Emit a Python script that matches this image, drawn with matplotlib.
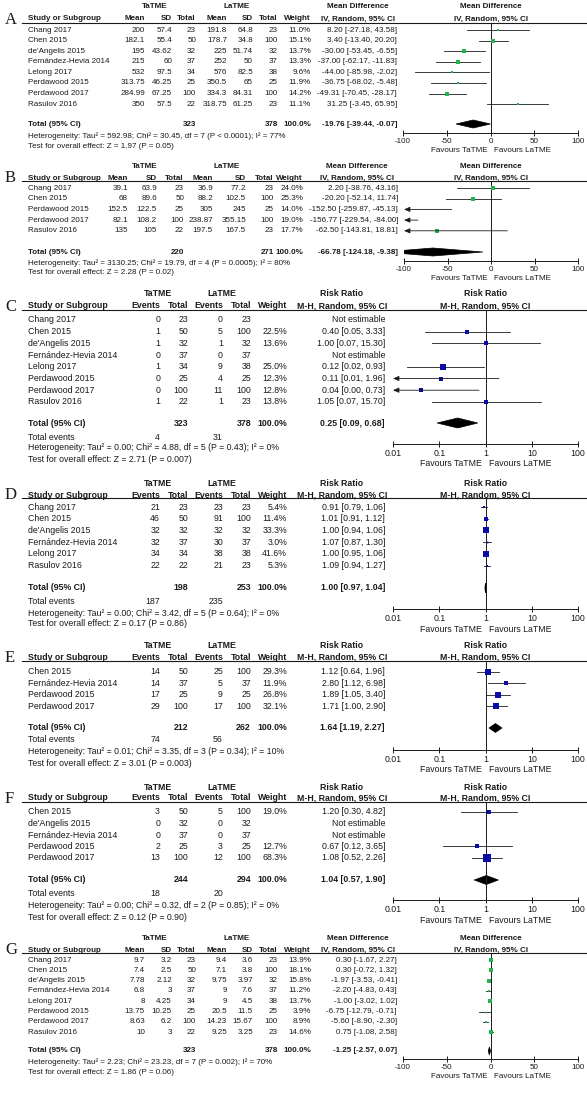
import numpy as np
import matplotlib.pyplot as plt
from matplotlib.patches import Polygon

plt.rcParams['font.family'] = ['Liberation Sans', 'DejaVu Sans']

nan = np.nan

# ---------------- A: mean difference ----------------
a_study = ["Chang 2017", "Chen 2015", "de'Angelis 2015", "Fernández-Hevia 2014",
           "Lelong 2017", "Perdawood 2015", "Perdawood 2017", "Rasulov 2016"]
a_t_mean = [200, 182.1, 195, 215, 532, 313.75, 284.99, 350]
a_t_sd = [57.4, 55.4, 43.62, 60, 97.5, 46.25, 67.25, 57.5]
a_t_n = [23, 50, 32, 37, 34, 25, 100, 22]
a_l_mean = [191.8, 178.7, 225, 252, 576, 350.5, 334.3, 318.75]
a_l_sd = [64.8, 34.8, 51.74, 50, 82.5, 65, 84.31, 61.25]
a_l_n = [23, 100, 32, 37, 38, 25, 100, 23]
a_weight = [11.0, 15.1, 13.7, 13.3, 9.6, 11.9, 14.2, 11.1]
a_est = [8.20, 3.40, -30.00, -37.00, -44.00, -36.75, -49.31, 31.25]
a_lo = [-27.18, -13.40, -53.45, -62.17, -85.98, -68.02, -70.45, -3.45]
a_hi = [43.58, 20.20, -6.55, -11.83, -2.02, -5.48, -28.17, 65.95]
a_total = [323, 378, -19.76, -39.44, -0.07]
a_het = "Heterogeneity: Tau² = 592.98; Chi² = 30.45, df = 7 (P < 0.0001); I² = 77%"
a_test = "Test for overall effect: Z = 1.97 (P = 0.05)"

# ---------------- B: mean difference ----------------
b_study = ["Chang 2017", "Chen 2015", "Perdawood 2015", "Perdawood 2017", "Rasulov 2016"]
b_t_mean = [39.1, 68, 152.5, 82.1, 135]
b_t_sd = [63.9, 89.6, 122.5, 108.2, 105]
b_t_n = [23, 50, 25, 100, 22]
b_l_mean = [36.9, 88.2, 305, 238.87, 197.5]
b_l_sd = [77.2, 102.5, 245, 355.15, 167.5]
b_l_n = [23, 100, 25, 100, 23]
b_weight = [24.0, 25.3, 14.0, 19.0, 17.7]
b_est = [2.20, -20.20, -152.50, -156.77, -62.50]
b_lo = [-38.76, -52.14, -259.87, -229.54, -143.81]
b_hi = [43.16, 11.74, -45.13, -84.00, 18.81]
b_total = [220, 271, -66.78, -124.18, -9.38]
b_het = "Heterogeneity: Tau² = 3130.25; Chi² = 19.79, df = 4 (P = 0.0005); I² = 80%"
b_test = "Test for overall effect: Z = 2.28 (P = 0.02)"

# ---------------- C: risk ratio ----------------
c_study = a_study
c_t_ev = [0, 1, 1, 0, 1, 0, 0, 1]
c_t_n = [23, 50, 32, 37, 34, 25, 100, 22]
c_l_ev = [0, 5, 1, 0, 9, 4, 11, 1]
c_l_n = [23, 100, 32, 37, 38, 25, 100, 23]
c_weight = [nan, 22.5, 13.6, nan, 25.0, 12.3, 12.8, 13.8]
c_est = [nan, 0.40, 1.00, nan, 0.12, 0.11, 0.04, 1.05]
c_lo = [nan, 0.05, 0.07, nan, 0.02, 0.01, 0.00, 0.07]
c_hi = [nan, 3.33, 15.30, nan, 0.93, 1.96, 0.73, 15.70]
c_total = [323, 378, 0.25, 0.09, 0.68]
c_events = [4, 31]
c_het = "Heterogeneity: Tau² = 0.00; Chi² = 4.88, df = 5 (P = 0.43); I² = 0%"
c_test = "Test for overall effect: Z = 2.71 (P = 0.007)"

# ---------------- D: risk ratio ----------------
d_study = ["Chang 2017", "Chen 2015", "de'Angelis 2015", "Fernández-Hevia 2014",
           "Lelong 2017", "Rasulov 2016"]
d_t_ev = [21, 46, 32, 32, 34, 22]
d_t_n = [23, 50, 32, 37, 34, 22]
d_l_ev = [23, 91, 32, 30, 38, 21]
d_l_n = [23, 100, 32, 37, 38, 23]
d_weight = [5.4, 11.4, 33.3, 3.0, 41.6, 5.3]
d_est = [0.91, 1.01, 1.00, 1.07, 1.00, 1.09]
d_lo = [0.79, 0.91, 0.94, 0.87, 0.95, 0.94]
d_hi = [1.06, 1.12, 1.06, 1.30, 1.06, 1.27]
d_total = [198, 253, 1.00, 0.97, 1.04]
d_events = [187, 235]
d_het = "Heterogeneity: Tau² = 0.00; Chi² = 3.42, df = 5 (P = 0.64); I² = 0%"
d_test = "Test for overall effect: Z = 0.17 (P = 0.86)"

# ---------------- E: risk ratio ----------------
e_study = ["Chen 2015", "Fernández-Hevia 2014", "Perdawood 2015", "Perdawood 2017"]
e_t_ev = [14, 14, 17, 29]
e_t_n = [50, 37, 25, 100]
e_l_ev = [25, 5, 9, 17]
e_l_n = [100, 37, 25, 100]
e_weight = [29.3, 11.9, 26.8, 32.1]
e_est = [1.12, 2.80, 1.89, 1.71]
e_lo = [0.64, 1.12, 1.05, 1.00]
e_hi = [1.96, 6.98, 3.40, 2.90]
e_total = [212, 262, 1.64, 1.19, 2.27]
e_events = [74, 56]
e_het = "Heterogeneity: Tau² = 0.01; Chi² = 3.35, df = 3 (P = 0.34); I² = 10%"
e_test = "Test for overall effect: Z = 3.01 (P = 0.003)"

# ---------------- F: risk ratio ----------------
f_study = ["Chen 2015", "de'Angelis 2015", "Fernández-Hevia 2014", "Perdawood 2015", "Perdawood 2017"]
f_t_ev = [3, 0, 0, 2, 13]
f_t_n = [50, 32, 37, 25, 100]
f_l_ev = [5, 0, 0, 3, 12]
f_l_n = [100, 32, 37, 25, 100]
f_weight = [19.0, nan, nan, 12.7, 68.3]
f_est = [1.20, nan, nan, 0.67, 1.08]
f_lo = [0.30, nan, nan, 0.12, 0.52]
f_hi = [4.82, nan, nan, 3.65, 2.26]
f_total = [244, 294, 1.04, 0.57, 1.90]
f_events = [18, 20]
f_het = "Heterogeneity: Tau² = 0.00; Chi² = 0.32, df = 2 (P = 0.85); I² = 0%"
f_test = "Test for overall effect: Z = 0.12 (P = 0.90)"

# ---------------- G: mean difference ----------------
g_study = a_study
g_t_mean = [9.7, 7.4, 7.78, 6.8, 8, 13.75, 8.63, 10]
g_t_sd = [3.2, 2.5, 2.12, 3, 4.25, 10.25, 6.2, 3]
g_t_n = [23, 50, 32, 37, 34, 25, 100, 22]
g_l_mean = [9.4, 7.1, 9.75, 9, 9, 20.5, 14.23, 9.25]
g_l_sd = [3.6, 3.8, 3.97, 7.6, 4.5, 11.5, 15.67, 3.25]
g_l_n = [23, 100, 32, 37, 38, 25, 100, 23]
g_weight = [13.9, 18.1, 15.8, 11.2, 13.7, 3.9, 8.9, 14.6]
g_est = [0.30, 0.30, -1.97, -2.20, -1.00, -6.75, -5.60, 0.75]
g_lo = [-1.67, -0.72, -3.53, -4.83, -3.02, -12.79, -8.90, -1.08]
g_hi = [2.27, 1.32, -0.41, 0.43, 1.02, -0.71, -2.30, 2.58]
g_total = [323, 378, -1.25, -2.57, 0.07]
g_het = "Heterogeneity: Tau² = 2.23; Chi² = 23.23, df = 7 (P = 0.002); I² = 70%"
g_test = "Test for overall effect: Z = 1.86 (P = 0.06)"

md_ticks = [-100, -50, 0, 50, 100]
md_ticklabels = ['-100', '-50', '0', '50', '100']
rr_ticks = [0.01, 0.1, 1, 10, 100]
rr_ticklabels = ['0.01', '0.1', '1', '10', '100']

W, H = 587, 1095
INK = '#1a1a1a'
GREEN = '#22b34a'
BLUE = '#0a0aa8'

fig = plt.figure(figsize=(W / 100, H / 100), dpi=100)
bg = fig.add_axes([0, 0, 1, 1])
bg.set_xlim(0, W)
bg.set_ylim(H, 0)
bg.axis('off')


def txt(x, y, s, fs, ha='right', bold=False):
    bg.text(x, y, s, ha=ha, va='center', fontsize=fs, color=INK,
            fontweight='bold' if bold else 'normal')


def fmt(v):
    return f'{v:g}'


def ci_str(e, l, h):
    return f'{e:.2f} [{l:.2f}, {h:.2f}]'


def panel(letter, kind, L, study, tcols, lcols, weight, est, lo, hi, total,
          het, test, events=None):
    fs = L['fs']
    cx = L['cols']
    nt = len(tcols)
    # headers
    txt(L['grp'][0], L['gy'], 'TaTME', fs, ha='center', bold=True)
    txt(L['grp'][1], L['gy'], 'LaTME', fs, ha='center', bold=True)
    heads = ['Mean', 'SD', 'Total'] if kind == 'md' else ['Events', 'Total']
    title = 'Mean Difference' if kind == 'md' else 'Risk Ratio'
    method = 'IV, Random, 95% CI' if kind == 'md' else 'M-H, Random, 95% CI'
    txt(cx[0], L['hy'], 'Study or Subgroup', fs, ha='left', bold=True)
    for i, h in enumerate(heads + heads + ['Weight']):
        txt(cx[1 + i], L['hy'], h, fs, bold=True)
    txt(L['cih'], L['gy'], title, fs, ha='center', bold=True)
    txt(L['cih'], L['hy'], method, fs, ha='center', bold=True)
    x0, x1 = L['plot']
    txt((x0 + x1) / 2, L['gy'], title, fs, ha='center', bold=True)
    txt((x0 + x1) / 2, L['hy'], method, fs, ha='center', bold=True)
    bg.plot([22, W], [L['line'], L['line']], color=INK, lw=0.8)
    bg.text(5, L['line'] + 1, letter, fontsize=12, family='Liberation Serif',
            color=INK, ha='left', va='baseline')

    ys = L['y0'] + L['dy'] * np.arange(len(study))
    for r, y in enumerate(ys):
        txt(cx[0], y, study[r], fs, ha='left')
        for j, col in enumerate(tcols):
            txt(cx[1 + j], y, fmt(col[r]), fs)
        for j, col in enumerate(lcols):
            txt(cx[1 + nt + j], y, fmt(col[r]), fs)
        if np.isnan(est[r]):
            txt(cx[-1], y, 'Not estimable', fs)
        else:
            txt(cx[-2], y, f'{weight[r]:.1f}%', fs)
            txt(cx[-1], y, ci_str(est[r], lo[r], hi[r]), fs)

    ty = L['ty']
    txt(cx[0], ty, 'Total (95% CI)', fs, ha='left', bold=True)
    txt(cx[nt], ty, fmt(total[0]), fs, bold=True)
    txt(cx[2 * nt], ty, fmt(total[1]), fs, bold=True)
    txt(cx[-2], ty, '100.0%', fs, bold=True)
    txt(cx[-1], ty, ci_str(*total[2:]), fs, bold=True)
    if events is not None:
        txt(cx[0], L['ey'], 'Total events', fs, ha='left')
        txt(cx[1], L['ey'], fmt(events[0]), fs)
        txt(cx[1 + nt], L['ey'], fmt(events[1]), fs)
    txt(cx[0], L['hety'], het, fs, ha='left')
    txt(cx[0], L['testy'], test, fs, ha='left')

    # forest plot
    top, bot = L['line'], L['axis']
    ax = fig.add_axes([x0 / W, 1 - bot / H, (x1 - x0) / W, (bot - top) / H])
    ax.patch.set_alpha(0)
    ax.set_ylim(bot, top)
    if kind == 'md':
        ax.set_xlim(-100, 100)
        ref, ticks, labels, col, k = 0, md_ticks, md_ticklabels, GREEN, 0.62
    else:
        ax.set_xscale('log')
        ax.set_xlim(0.01, 100)
        ref, ticks, labels, col, k = 1, rr_ticks, rr_ticklabels, BLUE, 0.74
    ax.set_xticks(ticks)
    ax.set_xticklabels(labels, fontsize=fs, color=INK)
    ax.minorticks_off()
    ax.set_yticks([])
    for s in ['top', 'left', 'right']:
        ax.spines[s].set_visible(False)
    ax.spines['bottom'].set_linewidth(0.7)
    ax.spines['bottom'].set_color(INK)
    ax.tick_params(axis='x', direction='inout', length=4, width=0.7, pad=1.5, colors=INK)
    ax.axvline(ref, color=INK, lw=0.7)
    xmin, xmax = ax.get_xlim()
    for r, y in enumerate(ys):
        if np.isnan(est[r]):
            continue
        a, b = lo[r], hi[r]
        if a <= xmin:
            ax.annotate('', xy=(xmin, y), xytext=(min(b, xmax), y),
                        arrowprops=dict(arrowstyle='-|>,head_length=0.35,head_width=0.15',
                                        lw=0.6, color=INK, shrinkA=0, shrinkB=0),
                        annotation_clip=False)
        else:
            ax.plot([a, min(b, xmax)], [y, y], color=INK, lw=0.6)
        ax.plot([est[r]], [y], marker='s', ms=k * np.sqrt(weight[r]), color=col,
                mec=col, mew=0, ls='none')
    hh = L['dh']
    e, a, b = total[2:]
    ax.add_patch(Polygon([(a, ty), (e, ty - hh), (b, ty), (e, ty + hh)], closed=True,
                         facecolor='black', edgecolor='black', lw=0.5))
    fy = bot + L['fav']
    ax.annotate('Favours TaTME', xy=(ref, fy), xytext=(-2.5, 0), textcoords='offset points',
                ha='right', va='center', fontsize=fs, color=INK, annotation_clip=False)
    ax.annotate('Favours LaTME', xy=(ref, fy), xytext=(2.5, 0), textcoords='offset points',
                ha='left', va='center', fontsize=fs, color=INK, annotation_clip=False)


MD_COLS = [28, 145, 172, 196, 227, 253, 278, 311, 397]
RR_COLS = [28, 160, 188, 223, 251, 287, 385]
MD_FS = 5.75
RR_FS = 6.3

LA = dict(fs=MD_FS, cols=MD_COLS, grp=(155, 237), gy=7, hy=19, line=23, y0=30, dy=10.6,
          ty=124, hety=136, testy=146, axis=133, plot=(403, 578), cih=358, dh=4, fav=18)
LB = dict(fs=MD_FS, cols=[28, 128, 157, 184, 213, 246, 274, 303, 398], grp=(145, 227),
          gy=166, hy=178, line=181, y0=188, dy=10.7, ty=252, hety=263, testy=273,
          axis=261, plot=(404, 578), cih=357, dh=4, fav=17)
LC = dict(fs=RR_FS, cols=RR_COLS, grp=(158, 222), gy=294, hy=306, line=310, y0=320, dy=11.7,
          ty=423, ey=437, hety=448, testy=460, axis=444, plot=(393, 578), cih=342, dh=5, fav=20)
LD = dict(fs=RR_FS, cols=RR_COLS, grp=(158, 222), gy=483, hy=495, line=498, y0=507, dy=11.7,
          ty=588, ey=601, hety=613, testy=624, axis=609, plot=(393, 578), cih=342, dh=5, fav=20)
LE = dict(fs=RR_FS, cols=RR_COLS, grp=(158, 222), gy=646, hy=657, line=661, y0=672, dy=11.4,
          ty=728, ey=740, hety=751, testy=763, axis=750, plot=(393, 578), cih=342, dh=4.5, fav=19)
LF = dict(fs=RR_FS, cols=RR_COLS, grp=(158, 222), gy=787, hy=798, line=802, y0=812, dy=11.5,
          ty=880, ey=893, hety=905, testy=917, axis=900, plot=(393, 578), cih=342, dh=4.5, fav=21)
LG = dict(fs=MD_FS, cols=MD_COLS, grp=(155, 237), gy=938, hy=950, line=953, y0=960, dy=10.3,
          ty=1051, hety=1062, testy=1073, axis=1059, plot=(403, 578), cih=358, dh=4, fav=17)

panel('A', 'md', LA, a_study, [a_t_mean, a_t_sd, a_t_n], [a_l_mean, a_l_sd, a_l_n],
      a_weight, a_est, a_lo, a_hi, a_total, a_het, a_test)
panel('B', 'md', LB, b_study, [b_t_mean, b_t_sd, b_t_n], [b_l_mean, b_l_sd, b_l_n],
      b_weight, b_est, b_lo, b_hi, b_total, b_het, b_test)
panel('C', 'rr', LC, c_study, [c_t_ev, c_t_n], [c_l_ev, c_l_n],
      c_weight, c_est, c_lo, c_hi, c_total, c_het, c_test, c_events)
panel('D', 'rr', LD, d_study, [d_t_ev, d_t_n], [d_l_ev, d_l_n],
      d_weight, d_est, d_lo, d_hi, d_total, d_het, d_test, d_events)
panel('E', 'rr', LE, e_study, [e_t_ev, e_t_n], [e_l_ev, e_l_n],
      e_weight, e_est, e_lo, e_hi, e_total, e_het, e_test, e_events)
panel('F', 'rr', LF, f_study, [f_t_ev, f_t_n], [f_l_ev, f_l_n],
      f_weight, f_est, f_lo, f_hi, f_total, f_het, f_test, f_events)
panel('G', 'md', LG, g_study, [g_t_mean, g_t_sd, g_t_n], [g_l_mean, g_l_sd, g_l_n],
      g_weight, g_est, g_lo, g_hi, g_total, g_het, g_test)

fig.savefig('out.png', dpi=100, facecolor='white')
